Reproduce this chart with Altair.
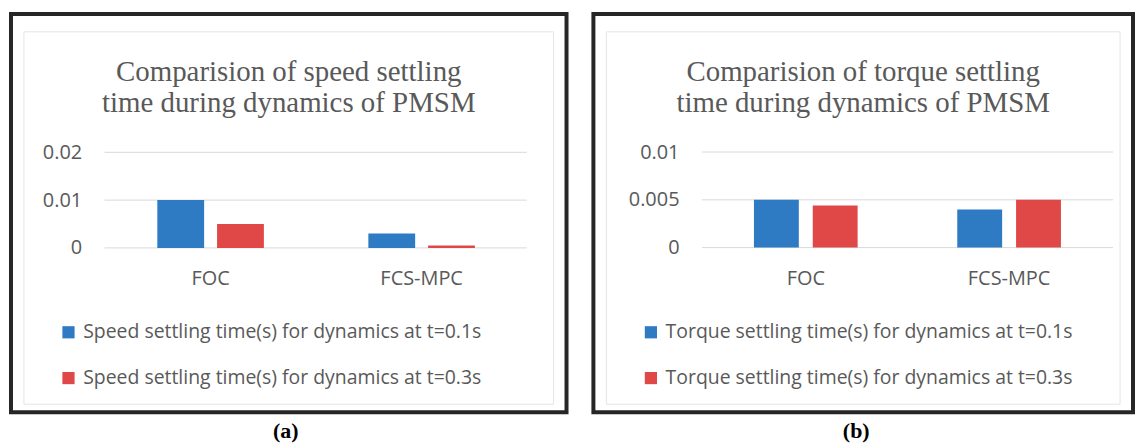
import altair as alt
import pandas as pd

# ---- data ----
categories = ["FOC", "FCS-MPC"]

speed_series = [
    "Speed settling time(s) for dynamics at t=0.1s",
    "Speed settling time(s) for dynamics at t=0.3s",
]
speed_t01 = [0.01, 0.003]
speed_t03 = [0.005, 0.0005]
speed_ticks = [0, 0.01, 0.02]

torque_series = [
    "Torque settling time(s) for dynamics at t=0.1s",
    "Torque settling time(s) for dynamics at t=0.3s",
]
torque_t01 = [0.005, 0.004]
torque_t03 = [0.0044, 0.005]
torque_ticks = [0, 0.005, 0.01]

speed_title = ["Comparision of speed settling", "time during dynamics of PMSM"]
torque_title = ["Comparision of torque settling", "time during dynamics of PMSM"]
panel_tags = ["(a)", "(b)"]

# ---- styling ----
BLUE = "#2E7BC4"
RED = "#E04848"
TEXT = "#595959"
GRID = "#D9D9D9"
SANS = "Open Sans"
SERIF = "Liberation Serif"
H = 400


def panel(title_lines, series, v1, v2, ticks, ydomain, width, band, off_pad,
          yaxis_off, grid_x, legend_x, tag, tag_x):
    df = pd.DataFrame({
        "category": categories * 2,
        "series": [series[0]] * len(categories) + [series[1]] * len(categories),
        "value": v1 + v2,
    })
    yscale = alt.Scale(domain=ydomain, nice=False, zero=False)
    yaxis = alt.Axis(
        orient="left", offset=yaxis_off, labelPadding=0, ticks=False,
        tickSize=0, domain=False, grid=False, values=ticks,
        format="~g", title=None, labelFont=SANS, labelFontSize=20,
        labelColor=TEXT, labelBaseline="middle",
    )

    grid = alt.Chart(pd.DataFrame({"value": ticks})).mark_rule(
        color=GRID, strokeWidth=1
    ).encode(
        y=alt.Y("value:Q", scale=yscale, axis=yaxis),
        x=alt.value(grid_x[0]),
        x2=alt.value(grid_x[1]),
    )

    bars = alt.Chart(df).mark_bar().encode(
        x=alt.X(
            "category:N", sort=categories,
            scale=alt.Scale(paddingInner=band[0], paddingOuter=band[1], align=band[2]),
            axis=alt.Axis(
                orient="bottom", offset=-165, labelPadding=21, ticks=False,
                domain=False, grid=False, labelAngle=0, title=None,
                labelFont=SANS, labelFontSize=20, labelColor=TEXT,
            ),
        ),
        xOffset=alt.XOffset(
            "series:N", sort=series,
            scale=alt.Scale(paddingInner=off_pad, paddingOuter=0),
        ),
        y=alt.Y("value:Q", scale=yscale, stack=None, axis=yaxis),
        y2=alt.datum(0),
        color=alt.Color(
            "series:N", sort=series,
            scale=alt.Scale(domain=series, range=[BLUE, RED]),
            legend=alt.Legend(
                orient="none", legendX=legend_x, legendY=310, direction="vertical",
                title=None, symbolType="square", symbolSize=150,
                symbolStrokeWidth=0, labelFont=SANS, labelFontSize=19.5,
                labelColor=TEXT, labelOffset=5, rowPadding=25, labelLimit=700,
                padding=0,
            ),
        ),
    )

    inner = alt.Chart(pd.DataFrame({"k": [0]})).mark_rect(
        fillOpacity=0, stroke="#E4E4E4", strokeWidth=1
    ).encode(
        x=alt.value(13), x2=alt.value(width - 13),
        y=alt.value(18), y2=alt.value(H - 8),
    )

    tag_text = alt.Chart(pd.DataFrame({"tag": [tag]})).mark_text(
        font=SERIF, fontSize=22, fontWeight="bold", color="#000000",
        baseline="middle", align="center",
    ).encode(
        text="tag:N", x=alt.value(tag_x), y=alt.value(H + 19),
    )

    return alt.layer(grid, bars, inner, tag_text).properties(
        width=width, height=H,
        title=alt.TitleParams(
            text=title_lines, font=SERIF, fontSize=29, fontWeight="normal",
            color=TEXT, anchor="middle", offset=-104, lineHeight=31,
        ),
    )


left = panel(speed_title, speed_series, speed_t01, speed_t03, speed_ticks,
             [-0.034375, 0.048958], 558, (0.495, 0.5637, 0.615), 0.2167,
             -71, (94, 518), 48, panel_tags[0], 276)
right = panel(torque_title, torque_series, torque_t01, torque_t03, torque_ticks,
              [-0.017219, 0.024448], 542, (0.49, 0.572, 0.6902), 0.237,
              -86, (109, 522), 48, panel_tags[1], 264)

chart = alt.hconcat(left, right, spacing=23).resolve_scale(
    x="independent", y="independent", color="independent", xOffset="independent"
).resolve_legend(color="independent").configure(
    padding={"left": 1, "top": 3, "right": 0, "bottom": 0},
    background="white",
).configure_view(
    stroke="#262626", strokeWidth=4, fill="white"
)

chart.save("out.html", embed_options={"renderer": "svg", "actions": False})
